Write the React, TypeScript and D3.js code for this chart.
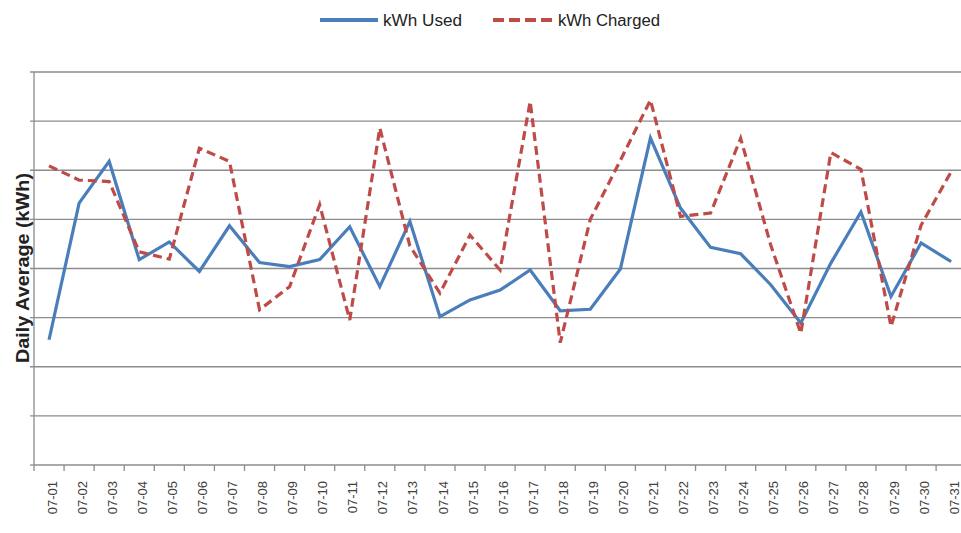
import React from "react";
import * as d3 from "d3";

const days = [
  "07-01","07-02","07-03","07-04","07-05","07-06","07-07","07-08","07-09","07-10",
  "07-11","07-12","07-13","07-14","07-15","07-16","07-17","07-18","07-19","07-20",
  "07-21","07-22","07-23","07-24","07-25","07-26","07-27","07-28","07-29","07-30","07-31",
];

const kwhUsed = [
  2.55, 5.33, 6.18, 4.18, 4.54, 3.94, 4.87, 4.12, 4.04, 4.18,
  4.85, 3.63, 4.96, 3.02, 3.36, 3.56, 3.97, 3.14, 3.17, 3.99,
  6.66, 5.23, 4.43, 4.3, 3.67, 2.89, 4.11, 5.15, 3.43, 4.52, 4.14,
];

const kwhCharged = [
  6.09, 5.8, 5.77, 4.34, 4.19, 6.45, 6.18, 3.16, 3.63, 5.3,
  2.95, 6.86, 4.46, 3.5, 4.68, 3.97, 7.4, 2.49, 5.0, 6.2,
  7.43, 5.06, 5.13, 6.65, 4.48, 2.68, 6.36, 6.02, 2.82, 4.88, 5.97,
];

const gridValues = [1, 2, 3, 4, 5, 6, 7, 8];

const W = 961;
const H = 533;
const left = 34;
const top = 72;
const bottom = 465;
const bandW = 30.07;

export default function App() {
  const x = d3.scaleBand<string>().domain(days).range([left, left + bandW * days.length]).padding(0);
  const y = d3.scaleLinear().domain([0, 8]).range([bottom, top]);
  const cx = (d: string) => (x(d) as number) + x.bandwidth() / 2;

  const line = d3
    .line<number>()
    .x((_, i) => cx(days[i]))
    .y((v) => y(v));

  const gridColor = "#8c8c8c";
  const blue = "#4A7EBB";
  const red = "#BE4B48";

  const boundaries = days.map((d) => x(d) as number).concat([(x(days[days.length - 1]) as number) + x.bandwidth()]);

  return (
    <svg
      width={W}
      height={H}
      style={{ position: "absolute", left: 0, top: 0, background: "#fff" }}
      fontFamily="Arial, 'Liberation Sans', sans-serif"
    >
      <rect x={0} y={0} width={W} height={H} fill="#fff" />
      {/* gridlines */}
      {gridValues.map((g) => (
        <line key={g} x1={left - 4} x2={W} y1={y(g)} y2={y(g)} stroke={gridColor} strokeWidth={1.3} />
      ))}
      {/* y axis */}
      <line x1={left} x2={left} y1={top} y2={bottom} stroke={gridColor} strokeWidth={1.3} />
      <line x1={left - 4} x2={left} y1={bottom} y2={bottom} stroke={gridColor} strokeWidth={1.3} />
      {/* x axis */}
      <line x1={left} x2={W} y1={bottom} y2={bottom} stroke={gridColor} strokeWidth={1.3} />
      {boundaries.map((b, i) => (
        <line key={i} x1={b} x2={b} y1={bottom} y2={bottom + 6} stroke={gridColor} strokeWidth={1.3} />
      ))}
      {/* x labels */}
      {days.map((d) => (
        <text
          key={d}
          transform={`translate(${cx(d) + 3},${481}) rotate(-90)`}
          textAnchor="end"
          dy="0.35em"
          fontSize={13}
          fill="#404040"
        >
          {d}
        </text>
      ))}
      {/* y title */}
      <text
        transform={`translate(23,268) rotate(-90)`}
        textAnchor="middle"
        dy="0.35em"
        fontSize={18}
        fontWeight="bold"
        fill="#222"
        textLength={190}
        lengthAdjust="spacingAndGlyphs"
      >
        Daily Average (kWh)
      </text>
      {/* series */}
      <path d={line(kwhUsed) || ""} fill="none" stroke={blue} strokeWidth={3.2} strokeLinejoin="miter" />
      <path
        d={line(kwhCharged) || ""}
        fill="none"
        stroke={red}
        strokeWidth={3.2}
        strokeDasharray="9,5"
        strokeLinejoin="miter"
      />
      {/* legend */}
      <line x1={320} x2={378} y1={20} y2={20} stroke={blue} strokeWidth={4} />
      <text x={383} y={26} fontSize={16} fill="#222" textLength={79} lengthAdjust="spacingAndGlyphs">
        kWh Used
      </text>
      <line x1={493} x2={553} y1={20} y2={20} stroke={red} strokeWidth={4} strokeDasharray="11,5" />
      <text x={558} y={26} fontSize={16} fill="#222" textLength={102} lengthAdjust="spacingAndGlyphs">
        kWh Charged
      </text>
    </svg>
  );
}
